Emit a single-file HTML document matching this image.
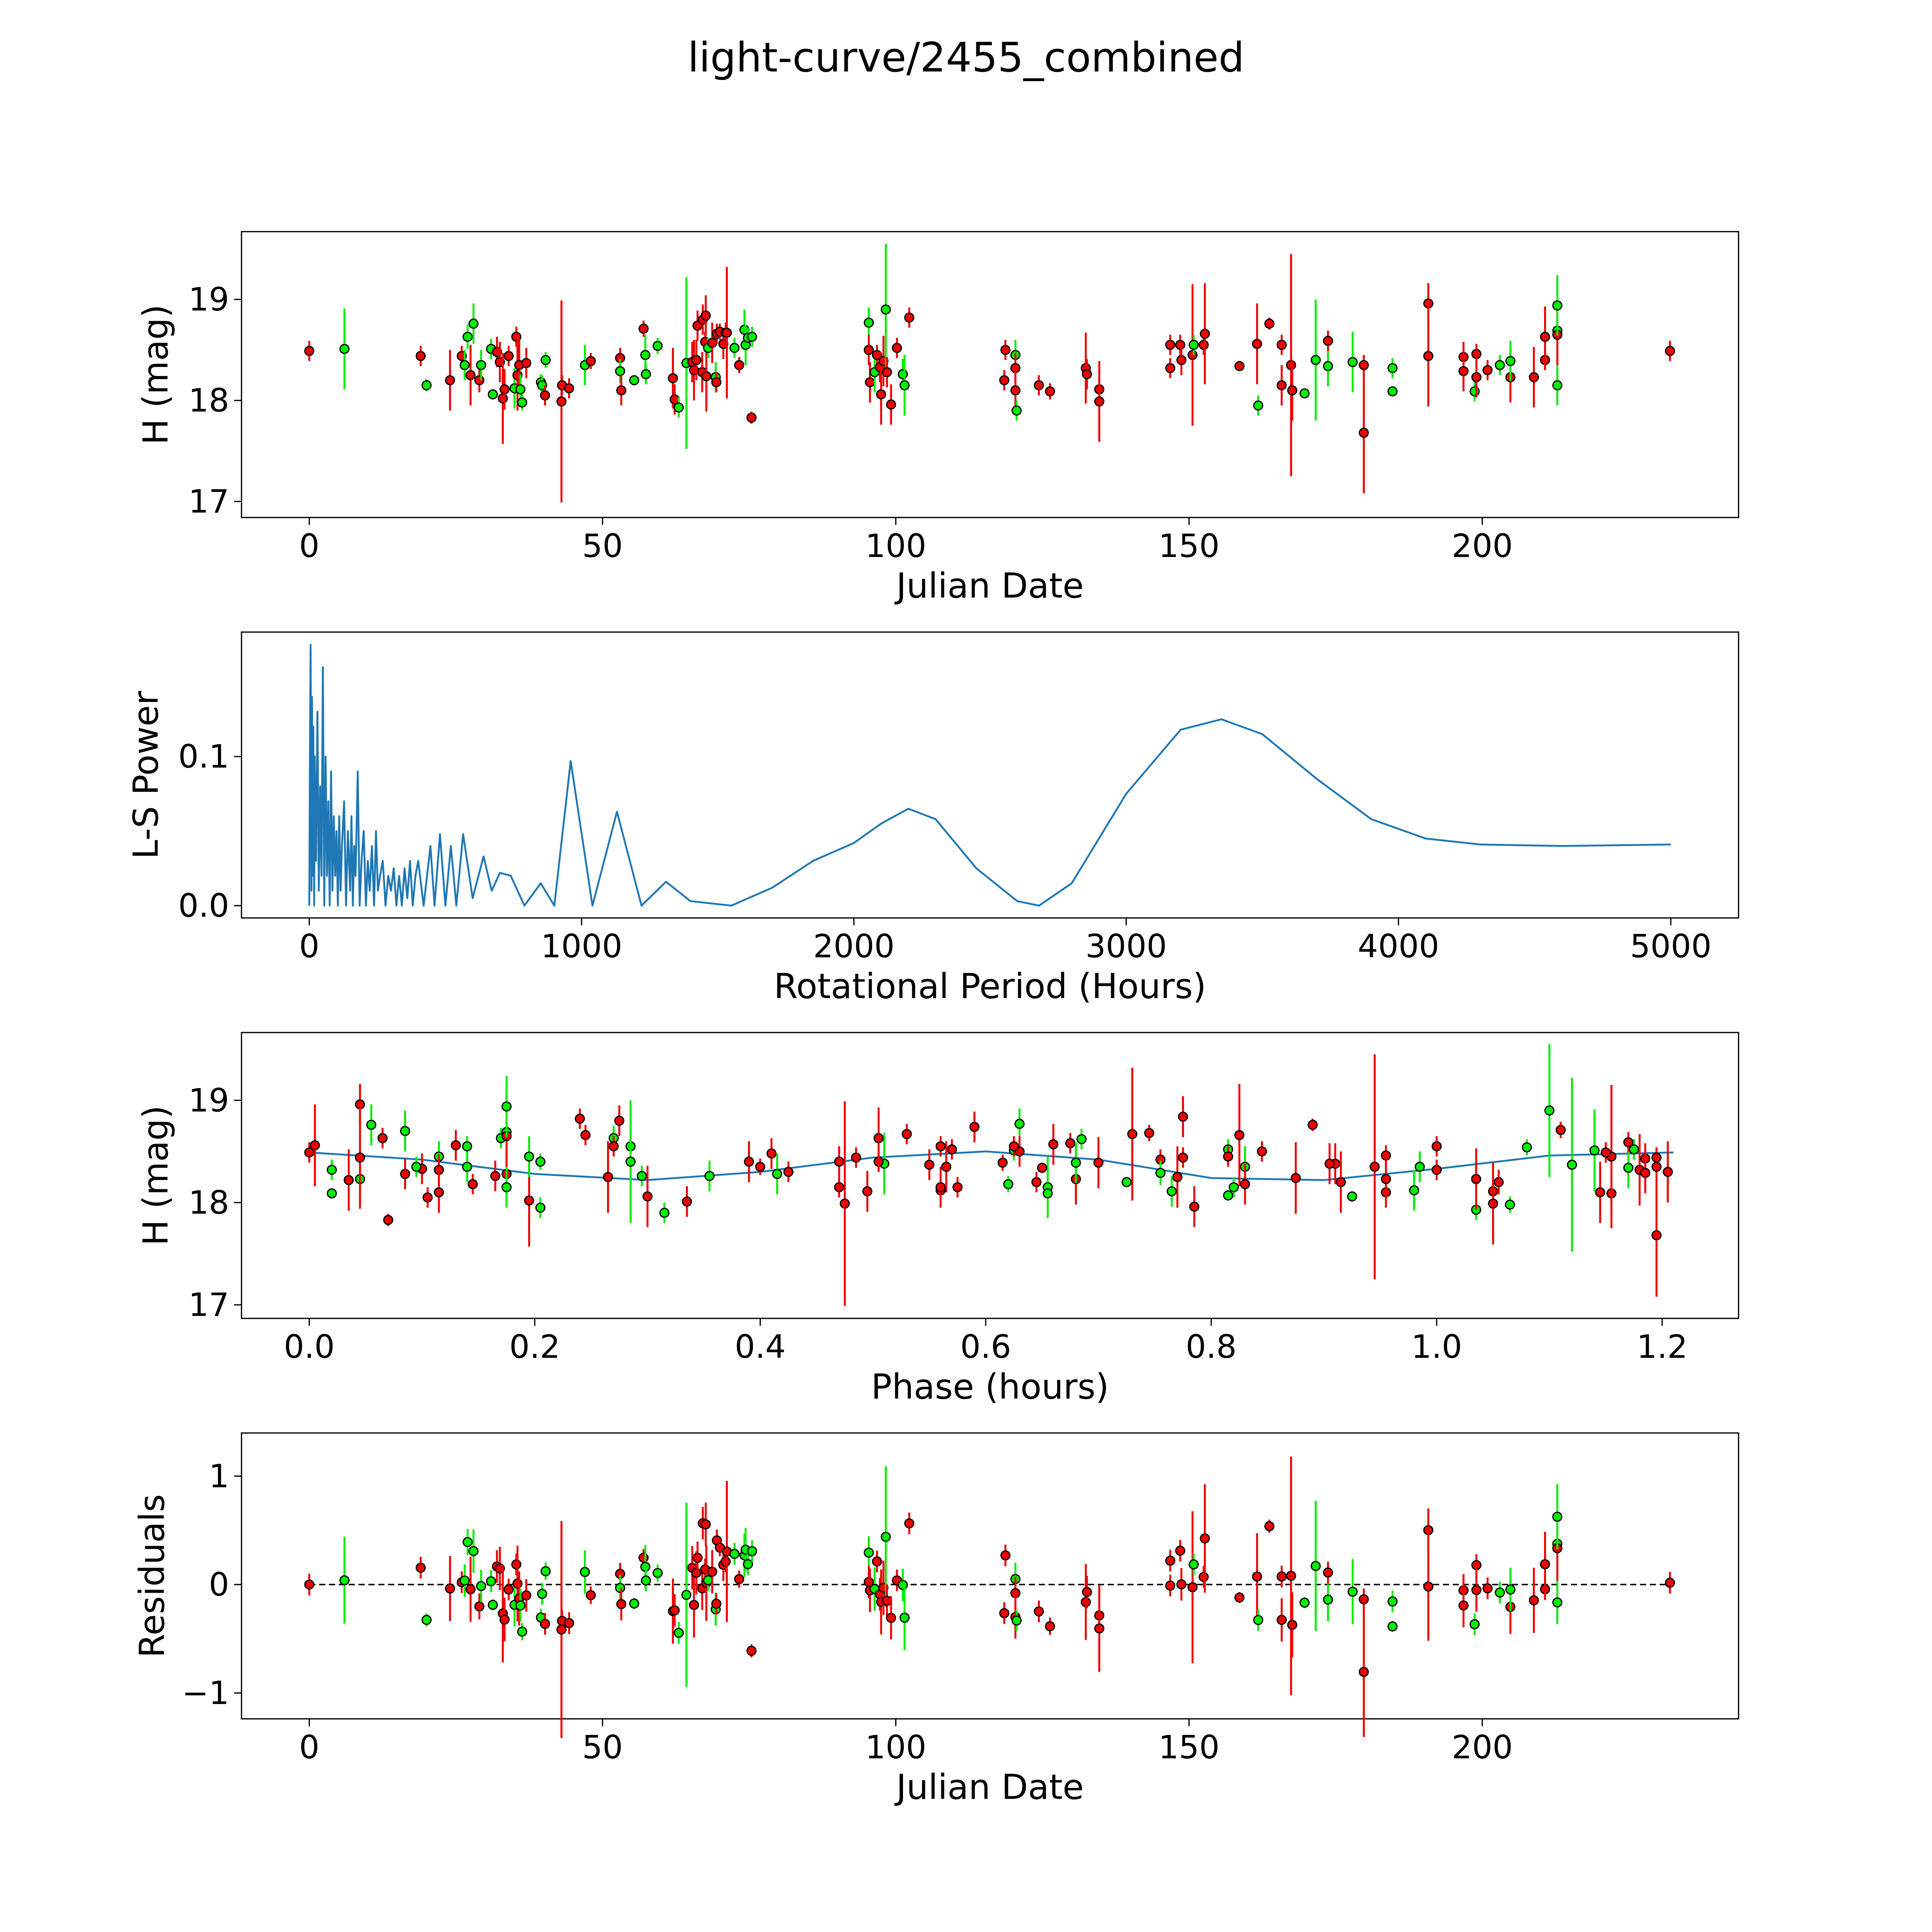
<!DOCTYPE html>
<html><head><meta charset="utf-8"><style>html,body{margin:0;padding:0;background:#fff;overflow:hidden}svg{display:block}text{font-family:"DejaVu Sans","Liberation Sans",sans-serif;fill:#000}</style></head>
<body>
<svg id="fig" width="5000" height="5000" viewBox="0 0 1568 1568" xmlns="http://www.w3.org/2000/svg">
<rect width="1568" height="1568" fill="#fff"/>
<text x="784" y="58" font-size="33" text-anchor="middle">light-curve/2455_combined</text>
</svg>
<script>
const dates=[0,6,19,20,24,26,26.5,27,27.5,28,29,29.3,31,31.3,32,32.5,33,33.3,34,35,35.3,35.5,35.8,36,36.3,37,39.5,39.7,40.2,40.3,43,43.1,44.3,47,48,53,53,53.2,55.4,57,57.3,57.4,59.4,62,62.3,63,64.3,65.3,65.6,66,66.2,67,67.1,67.5,67.6,67.7,68,68.7,69.3,69.4,69.5,70,70.6,71,71.2,72.5,73.3,74.2,74.4,74.8,75.4,75.5,95.4,95.4,95.6,96.4,96.8,97.3,97.5,97.9,98.3,98.5,99.2,100.2,101.2,101.5,102.3,118.5,118.7,120.4,120.4,120.4,120.6,124.4,126.3,132.4,132.6,134.7,134.7,146.8,146.8,148.5,148.7,150.6,150.8,152.5,152.7,158.6,161.6,161.8,163.7,165.8,165.8,167.4,167.6,169.7,171.6,173.7,173.7,177.9,179.8,179.8,184.7,184.7,190.8,190.8,196.8,196.8,198.7,199,199,200.9,203,204.8,204.8,208.8,210.7,210.7,212.8,212.8,212.8,212.8,232];
const mags=[18.49,18.51,18.44,18.15,18.2,18.44,18.35,18.63,18.25,18.76,18.2,18.35,18.51,18.06,18.48,18.38,18.02,18.11,18.44,18.12,18.63,18.25,18.35,18.11,17.98,18.37,18.18,18.15,18.05,18.4,17.99,18.15,18.12,18.35,18.39,18.42,18.29,18.1,18.2,18.71,18.45,18.26,18.54,18.22,18.01,17.93,18.37,18.38,18.3,18.4,18.74,18.28,18.8,18.58,18.84,18.24,18.52,18.57,18.23,18.18,18.66,18.68,18.56,18.67,18.67,18.52,18.35,18.7,18.55,18.62,17.83,18.63,18.77,18.5,18.18,18.28,18.45,18.33,18.06,18.39,18.9,18.28,17.96,18.52,18.26,18.15,18.82,18.2,18.5,18.45,18.32,18.1,17.9,18.15,18.09,18.32,18.26,18.11,17.99,18.55,18.32,18.55,18.4,18.45,18.55,18.55,18.66,18.34,18.56,17.95,18.76,18.55,18.15,18.35,18.1,18.07,18.4,18.34,18.59,18.38,18.35,17.68,18.32,18.09,18.96,18.44,18.43,18.29,18.09,18.46,18.23,18.3,18.35,18.23,18.39,18.23,18.4,18.63,18.69,18.65,18.94,18.15,18.49];
const errs=[0.1,0.4,0.1,0.06,0.3,0.1,0.15,0.12,0.3,0.2,0.12,0.15,0.1,0.05,0.15,0.2,0.45,0.2,0.1,0.2,0.1,0.35,0.25,0.15,0.08,0.15,0.08,0.1,0.1,0.08,1.0,0.1,0.1,0.2,0.08,0.1,0.12,0.15,0.05,0.08,0.2,0.1,0.08,0.3,0.15,0.1,0.85,0.2,0.3,0.2,0.15,0.2,0.15,0.1,0.2,0.35,0.1,0.2,0.15,0.1,0.1,0.08,0.15,0.1,0.65,0.1,0.08,0.2,0.2,0.1,0.06,0.1,0.15,0.15,0.2,0.2,0.1,0.15,0.3,0.25,0.65,0.15,0.2,0.1,0.15,0.3,0.1,0.1,0.1,0.15,0.15,0.2,0.1,0.1,0.08,0.35,0.15,0.15,0.4,0.1,0.1,0.1,0.15,0.7,0.1,0.1,0.5,0.05,0.4,0.1,0.06,0.1,0.2,1.1,0.3,0.05,0.6,0.2,0.1,0.3,0.1,0.6,0.1,0.05,0.2,0.5,0.15,0.2,0.1,0.1,0.2,0.1,0.1,0.25,0.2,0.3,0.1,0.3,0.15,0.3,0.3,0.2,0.1];
const bands=['r','g','r','g','r','r','g','g','r','g','r','g','g','g','r','r','r','r','r','g','r','r','r','g','g','r','g','g','r','g','r','r','r','g','r','r','g','r','g','r','g','g','g','r','r','g','g','r','r','r','r','r','r','r','r','r','g','r','g','r','r','r','r','r','r','g','r','g','g','g','r','g','g','r','r','g','r','r','r','r','g','r','r','r','g','g','r','r','r','g','r','r','g','r','r','r','r','r','r','r','r','r','r','r','g','r','r','r','r','g','r','r','r','r','r','g','g','g','r','g','r','r','g','g','r','r','r','r','g','r','r','r','g','r','g','r','r','r','g','r','g','g','r'];
const period=1.215;
const modelPhase=[0,0.1,0.2,0.3,0.4,0.5,0.6,0.7,0.8,0.9,1.0,1.1,1.21];
const modelMag=[18.49,18.42,18.28,18.22,18.3,18.44,18.5,18.42,18.24,18.22,18.33,18.46,18.49];
const lsPeriod=[0,3,5,8,10,13,15,18,20,25,30,35,40,45,50,55,60,65,70,75,80,85,90,95,100,105,110,115,120,128,135,142,150,155,160,165,170,178,185,192,200,208,215,222,230,238,245,252,260,270,280,290,300,310,320,330,340,350,360,370,380,390,400,420,445,460,480,500,520,540,565,600,640,670,700,740,790,850,900,960,1040,1130,1220,1310,1400,1550,1700,1850,2000,2100,2200,2300,2450,2600,2680,2800,3000,3200,3350,3500,3700,3900,4100,4300,4600,5000];
const lsPower=[0,0.12,0.175,0.01,0.14,0.02,0.12,0.0,0.1,0.03,0.13,0.01,0.08,0.02,0.16,0.0,0.1,0.02,0.07,0.0,0.09,0.01,0.06,0.02,0.05,0.0,0.06,0.01,0.04,0.07,0.0,0.05,0.01,0.06,0.0,0.04,0.02,0.09,0.0,0.03,0.05,0.0,0.03,0.01,0.04,0.0,0.05,0.01,0.02,0.03,0.0,0.02,0.01,0.025,0.0,0.02,0.0,0.025,0.005,0.03,0.0,0.02,0.03,0.0,0.04,0.0,0.048,0.0,0.04,0.0,0.048,0.005,0.033,0.01,0.022,0.02,0.0,0.015,0.0,0.097,0.0,0.063,0.0,0.016,0.003,0.0,0.012,0.03,0.042,0.055,0.065,0.058,0.025,0.003,0.0,0.015,0.075,0.118,0.125,0.115,0.085,0.058,0.045,0.041,0.04,0.041];
const dateTicks=[0,50,100,150,200];
const magTicks=[17,18,19];
const lsXTicks=[0,1000,2000,3000,4000,5000];
const lsYTicks=[0.0,0.1];
const phaseTicks=[0.0,0.2,0.4,0.6,0.8,1.0,1.2];
const resTicks=[-1,0,1];

const NS='http://www.w3.org/2000/svg';
const svg=document.getElementById('fig');
function mk(tag,attrs,parent){const e=document.createElementNS(NS,tag);for(const k in attrs)e.setAttribute(k,attrs[k]);(parent||svg).appendChild(e);return e;}
const L=196,R=1411;
function lin(d0,d1,p0,p1){return v=>p0+(v-d0)*(p1-p0)/(d1-d0);}
const xDate=lin(0,200,251,1203);
const y1=lin(18,19,325,243);
const xLS=lin(0,5000,251,1356);
const yLS=lin(0,0.1,735,614);
const xPh=lin(0,1.2,251,1349);
const y3=lin(18,19,976,893);
const y4=lin(0,1,1286,1198);
function interp(xs,ys,v){if(v<=xs[0])return ys[0];for(let i=1;i<xs.length;i++){if(v<=xs[i]){const t=(v-xs[i-1])/(xs[i]-xs[i-1]);return ys[i-1]+t*(ys[i]-ys[i-1]);}}return ys[ys.length-1];}
const phases=dates.map(d=>((d%period)+period)%period);
const residuals=mags.map((m,i)=>m-interp(modelPhase,modelMag,phases[i]));

function panel(name,top,xTicks,xf,xfmt,yTicks,yf,yfmt,xlabel,ylabel,ylx){
  const g=mk('g',{});
  
  
  const fr=mk('rect',{x:L,y:top,width:R-L,height:232,fill:'none',stroke:'#000','stroke-width':1},g);
  
  
  const b=top+232;
  xTicks.forEach(t=>{const x=xf(t);mk('line',{x1:x,x2:x,y1:b,y2:b+6,stroke:'#000'},g);
    const tx=mk('text',{x:x,y:b+32,'font-size':26,'text-anchor':'middle'},g);tx.textContent=xfmt(t);
    
    });
  yTicks.forEach(t=>{const y=yf(t);mk('line',{x1:L-6,x2:L,y1:y,y2:y,stroke:'#000'},g);
    const tx=mk('text',{x:L-10,y:y+9,'font-size':26,'text-anchor':'end'},g);tx.textContent=yfmt(t);
    
    });
  const xl=mk('text',{x:(L+R)/2,y:b+65,'font-size':28,'text-anchor':'middle'},g);xl.textContent=xlabel;
  
  
  const cy=top+116;
  const yl=mk('text',{x:ylx,y:cy,'font-size':28,'text-anchor':'middle',transform:`rotate(-90 ${ylx} ${cy})`},g);yl.textContent=ylabel;
  
  
  return g;
}
const minus=s=>s.replace('-','\u2212');
const g1=panel('light-curve-panel',188,dateTicks,xDate,String,magTicks,y1,String,'Julian Date','H (mag)',136);
const g2=panel('periodogram-panel',513,lsXTicks,xLS,String,lsYTicks,yLS,t=>t.toFixed(1),'Rotational Period (Hours)','L-S Power',128);
const g3=panel('phase-panel',838,phaseTicks,xPh,t=>t.toFixed(1),magTicks,y3,String,'Phase (hours)','H (mag)',136);
const g4=panel('residuals-panel',1163,dateTicks,xDate,String,resTicks,y4,t=>minus(String(t)),'Julian Date','Residuals',133);

function col(b){return b==='g'?'#00ee00':'#ee0000';}
function points(g,xs,ys,yf,xf){
  xs.forEach((xv,i)=>{const x=xf(xv),y=yf(ys[i]);
    const e=mk('line',{x1:x,x2:x,y1:yf(ys[i]-errs[i]),y2:yf(ys[i]+errs[i]),stroke:col(bands[i]),'stroke-width':1.6},g);
    
    
    const c=mk('circle',{cx:x,cy:y,r:3.6,fill:col(bands[i]),stroke:'#000','stroke-width':1},g);
    
    });
}
points(g1,dates,mags,y1,xDate);
let dm='';modelPhase.forEach((p,i)=>{dm+=(i?'L':'M')+xPh(p)+','+y3(modelMag[i]);});
const mc=mk('path',{d:dm,fill:'none',stroke:'#1f77b4','stroke-width':1.5},g3);


points(g3,phases,mags,y3,xPh);
const zl=mk('line',{x1:251,x2:1356,y1:y4(0),y2:y4(0),stroke:'#000','stroke-width':1.2,'stroke-dasharray':'5,3'},g4);


points(g4,dates,residuals,y4,xDate);
let dl='';lsPeriod.forEach((p,i)=>{dl+=(i?'L':'M')+xLS(p)+','+yLS(lsPower[i]);});
const ll=mk('path',{d:dl,fill:'none',stroke:'#1f77b4','stroke-width':1.5,'stroke-linejoin':'round'},g2);


</script>
</body></html>
